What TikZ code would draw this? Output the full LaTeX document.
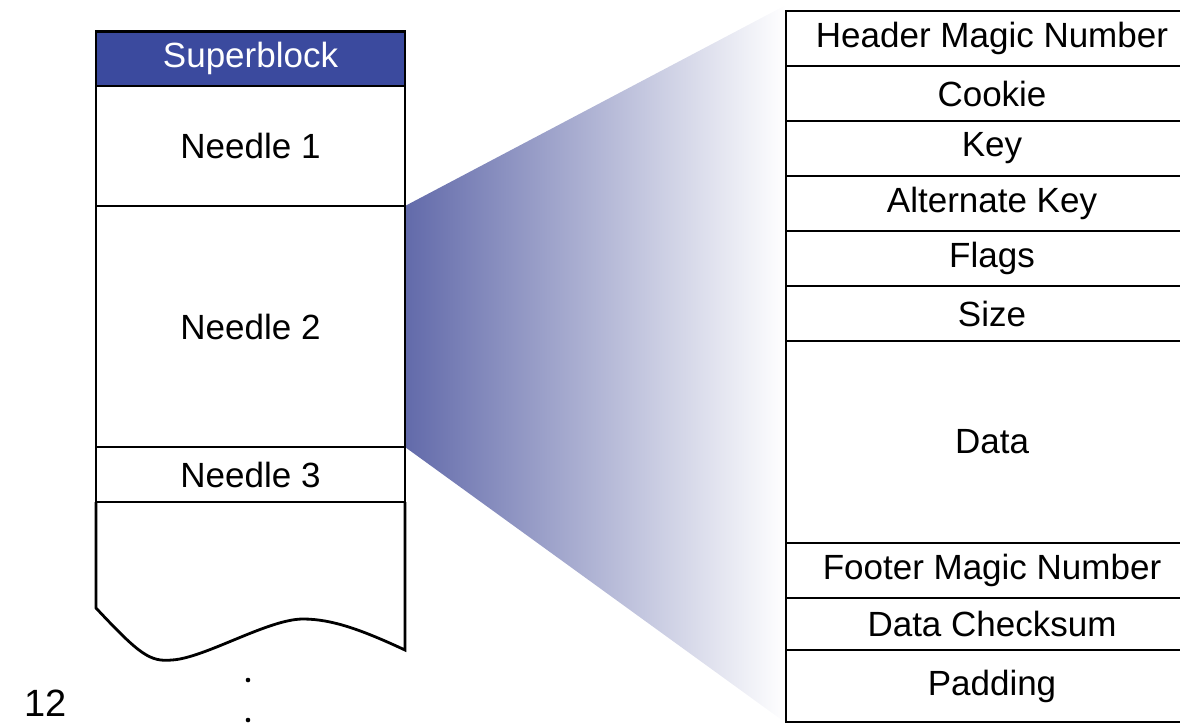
\documentclass[tikz,border=0pt]{standalone}
\usepackage{fontspec}
\setmainfont{Liberation Sans}
\definecolor{sbblue}{RGB}{59,74,158}
\definecolor{gradblue}{RGB}{98,106,170}
\tikzset{
  lbl/.style={font=\fontsize{35}{42}\selectfont},
  lcell/.style={draw=black, line width=2.8pt, outer sep=0pt, minimum width=309pt, inner sep=0pt, lbl},
  rcell/.style={draw=black, line width=2.8pt, outer sep=0pt, minimum width=412pt, inner sep=0pt, lbl},
  wire/.style={draw=black, line width=2.8pt},
}
\begin{document}
\begin{tikzpicture}[x=1pt,y=-1pt]
\useasboundingbox (0,0) rectangle (1180,724);
\clip (0,0) rectangle (1180,724);
% left column cells
\node[lcell, fill=sbblue, text=white, minimum height=54.5pt] (sb) at (250.5,58.75) {Superblock};
\node[lcell, minimum height=120pt] (n1) at (250.5,146) {Needle 1};
\node[lcell, minimum height=241pt] (n2) at (250.5,326.5) {Needle 2};
\node[lcell, minimum height=55pt] (n3) at (250.5,474.5) {Needle 3};
% gradient fan
\coordinate (gtop) at (786,5);
\coordinate (gbot) at (786,723);
\shade[left color=gradblue, right color=white] (n2.north east) -- (gtop) -- (gbot) -- (n2.south east) -- cycle;
% redraw needle 2 border on top
\node[lcell, minimum height=241pt] at (250.5,326.5) {};
% remaining part with wavy bottom
\coordinate (wl) at (96,608);
\coordinate (wr) at (405,650);
\draw[wire, line join=miter] (n3.south west) -- (wl)
  .. controls (140,655) and (150,662) .. (172,660)
  .. controls (205,658) and (268,619) .. (303,619)
  .. controls (332,619) and (362,630) .. (wr) -- (n3.south east);
% dots
\fill (248,680) circle (2.3pt);
\fill (248,720) circle (2.3pt);
\node[font=\fontsize{38}{42}\selectfont, inner sep=0pt, anchor=base] (pg) at (46,716) {12};
% right table
\node[rcell, minimum height=55pt] (r1) at (992,38.5) {Header Magic Number};
\node[rcell, minimum height=55pt] (r2) at (992,93.5) {Cookie};
\node[rcell, minimum height=55pt] (r3) at (992,148.5) {Key};
\node[rcell, minimum height=55pt] (r4) at (992,203.5) {Alternate Key};
\node[rcell, minimum height=55pt] (r5) at (992,258.5) {Flags};
\node[rcell, minimum height=55pt] (r6) at (992,313.5) {Size};
\node[rcell, minimum height=202pt] (r7) at (992,442) {Data};
\node[rcell, minimum height=55pt] (r8) at (992,570.5) {Footer Magic Number};
\node[rcell, minimum height=52pt] (r9) at (992,624) {Data Checksum};
\node[rcell, minimum height=72pt] (r10) at (992,686) {Padding};
\end{tikzpicture}
\end{document}
